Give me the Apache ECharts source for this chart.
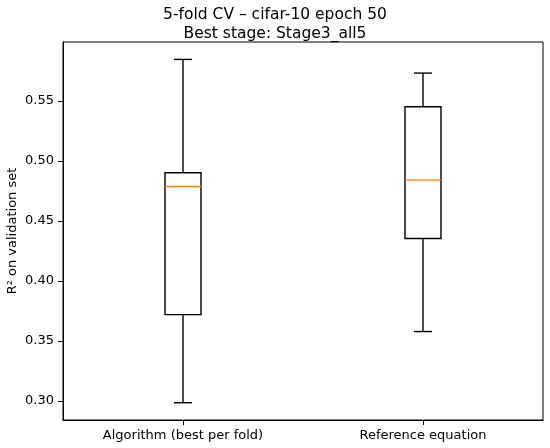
<!DOCTYPE html>
<html>
<head>
<meta charset="utf-8">
<script src="https://cdn.jsdelivr.net/npm/echarts@6/dist/echarts.min.js"></script>
<style>
    html, body { margin: 0; padding: 0; background: #fff; }
    #chart { width: 550px; height: 448px; }
</style>
</head>
<body>
<div id="chart"></div>
<script>
// box plot stats
var categories = ['Algorithm (best per fold)', 'Reference equation'];
var whiskerLow = [0.2986, 0.3579];
var q1 = [0.3720, 0.4354];
var median = [0.4788, 0.4841];
var q3 = [0.4902, 0.5452];
var whiskerHigh = [0.5847, 0.5733];
var yTicks = [0.30, 0.35, 0.40, 0.45, 0.50, 0.55];

var font = 'DejaVu Sans';

var chart = {
    render: function () {
        var myChart = echarts.init(document.getElementById('chart'));

        var data = categories.map(function (c, i) {
            return [i, whiskerLow[i], q1[i], median[i], q3[i], whiskerHigh[i]];
        });

        var option = {
            backgroundColor: '#fff',
            animation: false,
            title: {
                text: '5-fold CV \u2013 cifar-10 epoch 50\nBest stage: Stage3_all5',
                left: 'center',
                top: 0,
                textStyle: {
                    fontFamily: font,
                    fontSize: 15.5,
                    fontWeight: 'normal',
                    color: '#000',
                    lineHeight: 19
                }
            },
            grid: {
                left: 63,
                right: 7,
                top: 42,
                bottom: 28,
                outerBoundsMode: 'none',
                containLabel: false,
                show: true,
                borderColor: '#000',
                borderWidth: 1
            },
            xAxis: {
                type: 'category',
                data: categories,
                boundaryGap: true,
                axisLine: { show: true, lineStyle: { color: '#000', width: 1 } },
                axisTick: { show: true, alignWithLabel: true, length: 5, lineStyle: { color: '#000' } },
                axisLabel: { color: '#000', fontFamily: font, fontSize: 13, margin: 9 },
                splitLine: { show: false }
            },
            yAxis: {
                type: 'value',
                min: 0.2842,
                max: 0.5992,
                name: 'R\u00b2 on validation set',
                nameLocation: 'middle',
                nameGap: 44,
                nameMoveOverlap: false,
                nameTextStyle: { color: '#000', fontFamily: font, fontSize: 13 },
                axisLine: { show: true, lineStyle: { color: '#000', width: 1 } },
                axisTick: { show: true, length: 5, lineStyle: { color: '#000' }, customValues: yTicks },
                axisLabel: {
                    color: '#000',
                    fontFamily: font,
                    fontSize: 13,
                    margin: 9,
                    customValues: yTicks,
                    formatter: function (v) { return v.toFixed(2); }
                },
                splitLine: { show: false }
            },
            series: [
                {
                    type: 'custom',
                    data: data,
                    encode: { x: 0, y: [1, 2, 3, 4, 5] },
                    renderItem: function (params, api) {
                        var i = api.value(0);
                        var bw = api.size([1, 0])[0] * 0.15;
                        var cw = bw / 2;
                        var lo = api.coord([i, api.value(1)]);
                        var b1 = api.coord([i, api.value(2)]);
                        var md = api.coord([i, api.value(3)]);
                        var b3 = api.coord([i, api.value(4)]);
                        var hi = api.coord([i, api.value(5)]);
                        var x = lo[0];
                        var line = { stroke: '#000', lineWidth: 1.4 };
                        return {
                            type: 'group',
                            children: [
                                { type: 'rect', shape: { x: x - bw / 2, y: b3[1], width: bw, height: b1[1] - b3[1] }, style: { fill: 'none', stroke: '#000', lineWidth: 1.4 } },
                                { type: 'line', shape: { x1: x, y1: b1[1], x2: x, y2: lo[1] }, style: line },
                                { type: 'line', shape: { x1: x, y1: b3[1], x2: x, y2: hi[1] }, style: line },
                                { type: 'line', shape: { x1: x - cw / 2, y1: lo[1], x2: x + cw / 2, y2: lo[1] }, style: line },
                                { type: 'line', shape: { x1: x - cw / 2, y1: hi[1], x2: x + cw / 2, y2: hi[1] }, style: line },
                                { type: 'line', shape: { x1: x - bw / 2, y1: md[1], x2: x + bw / 2, y2: md[1] }, style: { stroke: '#ff7f0e', lineWidth: 1.4 } }
                            ]
                        };
                    }
                }
            ]
        };

        myChart.setOption(option);

        window.addEventListener('resize', function () {
            myChart.resize();
        });
    }
};

chart.render();
</script>
</body>
</html>
